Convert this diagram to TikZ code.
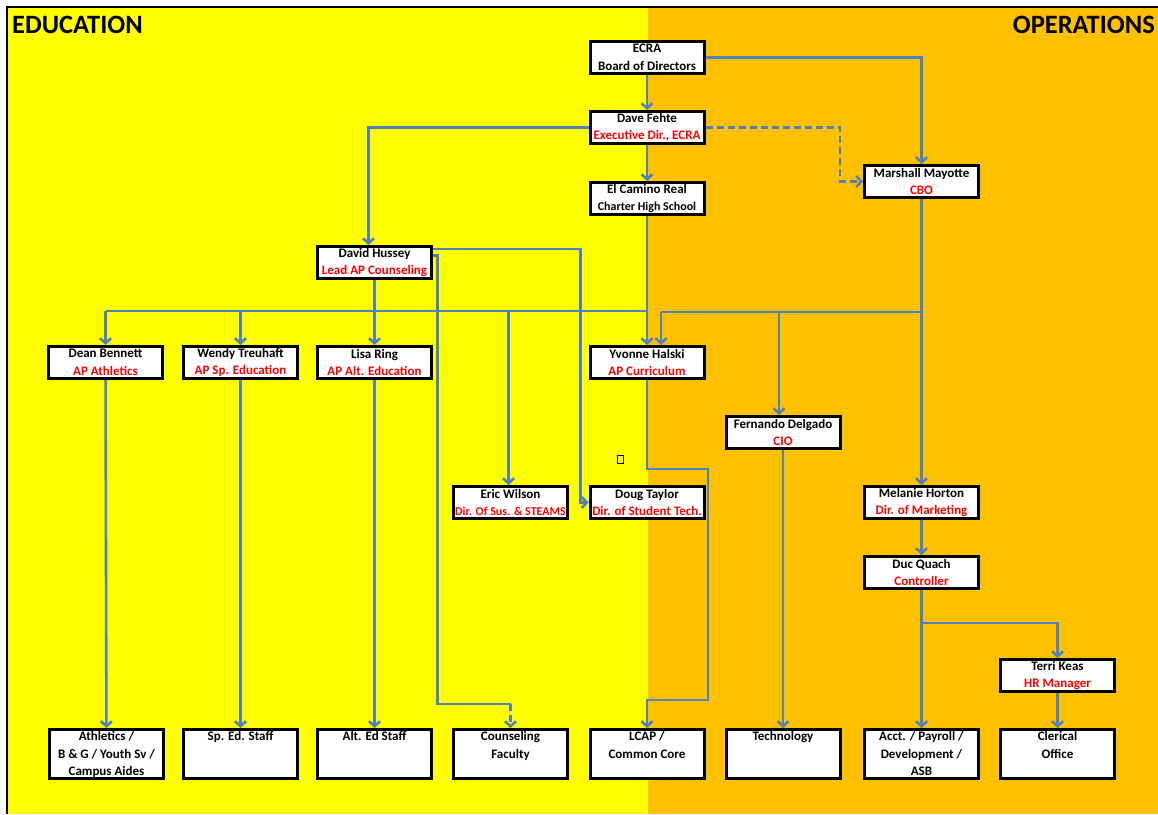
\documentclass[tikz,border=0pt]{standalone}
\usepackage{fontspec}
\setmainfont{Carlito}
\usetikzlibrary{arrows.meta}
\definecolor{edu}{HTML}{FFFF00}
\definecolor{ops}{HTML}{FFC000}
\definecolor{connc}{RGB}{79,129,189}
\definecolor{rtxt}{HTML}{FF0000}
\tikzset{
  box/.style={draw=black, line width=3pt, fill=white, minimum width=114pt, minimum height=32pt,
    inner sep=0pt, align=center, font=\bfseries\fontsize{13}{17.5}\selectfont},
  botbox/.style={box, minimum height=49pt},
  plainline/.style={draw=connc, line width=2.6pt},
  connarrow/.style={plainline, -{Straight Barb[length=5pt,width=11pt]}},
  dashline/.style={dash pattern=on 7pt off 4pt},
  ttl/.style={font=\bfseries\fontsize{26.5}{30}\selectfont, inner sep=0pt}
}
\newcommand{\rt}[1]{{\color{rtxt}#1}}
\newcommand{\topbox}[1]{\parbox[c][45pt][t]{112pt}{\centering #1}}
\begin{document}
\begin{tikzpicture}[x=1pt,y=-1pt]
\useasboundingbox (0,0) rectangle (1158,814);
\fill[white] (0,0) rectangle (1158,814);
\fill[edu] (8,8) rectangle (648,814);
\fill[ops] (648,8) rectangle (1158,814);
\draw[line width=1.5pt] (7,814) -- (7,7) -- (1158,7);

\node[ttl, anchor=base west] (edut) at (12,33) {EDUCATION};
\node[ttl, anchor=base east] (opst) at (1155,33) {OPERATIONS};

% upper boxes
\node[box] (ecra) at (647,57.5) {ECRA\\Board of Directors};
\node[box] (fehte) at (647,127.5) {Dave Fehte\\\rt{Executive Dir., ECRA}};
\node[box] (elc) at (647,198.5) {El Camino Real\\{\fontsize{12}{17}\selectfont Charter High School}};
\node[box] (mar) at (921.5,181.5) {Marshall Mayotte\\\rt{CBO}};
\node[box] (hus) at (374.5,262.5) {David Hussey\\\rt{Lead AP Counseling}};
\node[box] (dean) at (105.5,362.5) {Dean Bennett\\\rt{AP Athletics}};
\node[box] (wendy) at (240.5,362.5) {Wendy Treuhaft\\\rt{AP Sp. Education}};
\node[box] (lisa) at (374.5,362.5) {Lisa Ring\\\rt{AP Alt. Education}};
\node[box] (yvo) at (647,362.5) {Yvonne Halski\\\rt{AP Curriculum}};
\node[box] (fer) at (783,432.5) {Fernando Delgado\\\rt{CIO}};
\node[box] (eric) at (510.5,502.5) {Eric Wilson\\\rt{\fontsize{12}{17}\selectfont Dir. Of Sus. \& STEAMS}};
\node[box] (doug) at (647,502.5) {Doug Taylor\\\rt{Dir. of Student Tech.}};
\node[box] (mel) at (921.5,502.5) {Melanie Horton\\\rt{Dir. of Marketing}};
\node[box] (duc) at (921.5,572.5) {Duc Quach\\\rt{Controller}};
\node[box] (terri) at (1057.5,675.5) {Terri Keas\\\rt{HR Manager}};

% bottom row
\node[botbox] (ath) at (106.5,754) {\topbox{Athletics /\\B \& G / Youth Sv /\\Campus Aides}};
\node[botbox] (sped) at (240.5,754) {\topbox{Sp. Ed. Staff}};
\node[botbox] (alt) at (374.5,754) {\topbox{Alt. Ed Staff}};
\node[botbox] (cou) at (510.5,754) {\topbox{Counseling\\Faculty}};
\node[botbox] (lcap) at (647,754) {\topbox{LCAP /\\Common Core}};
\node[botbox] (tech) at (783,754) {\topbox{Technology}};
\node[botbox] (acct) at (921.5,754) {\topbox{Acct. / Payroll /\\Development /\\ASB}};
\node[botbox] (cler) at (1057.5,754) {\topbox{Clerical\\Office}};

% stray glyph
\draw[black, line width=0.6pt] (617,455) rectangle (623.5,463);

% helper coordinates
\coordinate (busL) at (0,311);
\coordinate (busR) at (0,312);
\coordinate (yvo2) at ([xshift=14pt]yvo.north);
\coordinate (husdrop) at ([xshift=-6pt]hus.north);
\coordinate (h1) at ([yshift=13.5pt]hus.east);
\coordinate (h2) at ([yshift=7pt]hus.east);
\coordinate (cf) at ([yshift=24pt]cou.north);
\coordinate (dq) at ([yshift=-33pt]duc.south);

% connectors
\draw[connarrow] (ecra) -- (fehte);
\draw[connarrow] (ecra.east) -| (mar.north);
\draw[connarrow] (fehte) -- (elc);
\draw[connarrow] (fehte.west) -| (husdrop);
\draw[connarrow, dashline] (fehte.east) -| ([xshift=-23pt]mar.west) -- (mar.west);

\draw[plainline] (dean.north |- busL) -- (elc.south |- busL);
\draw[connarrow] (elc.south) -- (yvo.north);
\draw[connarrow] (dean.north |- busL) -- (dean.north);
\draw[connarrow] (wendy.north |- busL) -- (wendy.north);
\draw[connarrow] ([xshift=-2pt]eric.north |- busL) -- ([xshift=-2pt]eric.north);

\draw[plainline] (mar.south) -- (mar.south |- busR) -- (yvo2 |- busR);
\draw[connarrow] (yvo2 |- busR) -- (yvo2);
\draw[connarrow] ([xshift=-4pt]fer.north |- busR) -- ([xshift=-4pt]fer.north);
\draw[connarrow] (mar.south) -- (mel.north);

\draw[connarrow] (hus.south) -- (lisa.north);
\draw[connarrow] (h1) -| ([xshift=-8pt]doug.west) -- (doug.west);
\draw[plainline] (h2) -- ++(4.5,0) |- (cf);
\draw[connarrow, dashline] (cf) -- (cou.north);

\draw[connarrow] (yvo.south) -- ++(0,89) -- ++(61,0) |- ([yshift=28pt]lcap.north) -- (lcap.north);

\draw[connarrow] (dean) -- (ath);
\draw[connarrow] (wendy) -- (sped);
\draw[connarrow] (lisa) -- (alt);
\draw[connarrow] (fer) -- (tech);
\draw[connarrow] (mel) -- (duc);
\draw[connarrow] (duc.south) -- (acct.north);
\draw[connarrow] (dq) -| (terri.north);
\draw[connarrow] (terri) -- (cler);
\end{tikzpicture}
\end{document}
